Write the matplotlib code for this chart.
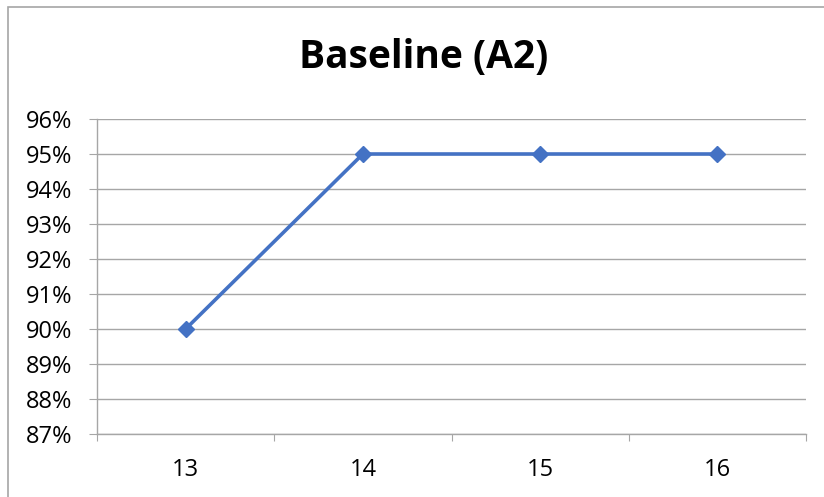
import matplotlib
matplotlib.use("Agg")
import matplotlib.pyplot as plt
from matplotlib.patches import Rectangle
from matplotlib.ticker import FuncFormatter

categories = ["13", "14", "15", "16"]
values = [0.90, 0.95, 0.95, 0.95]
y_ticks = [0.87, 0.88, 0.89, 0.90, 0.91, 0.92, 0.93, 0.94, 0.95, 0.96]
title = "Baseline (A2)"

plt.rcParams["font.family"] = ["Open Sans", "DejaVu Sans"]

W, H = 824, 497
fig = plt.figure(figsize=(W / 100, H / 100), dpi=100)
fig.patch.set_facecolor("white")

# chart-area border (open at right and bottom)
fig.add_artist(Rectangle((8 / W, -0.1), 1.2, 1 - 7 / H + 0.1, transform=fig.transFigure,
                         fill=False, edgecolor="#A6A6A6", linewidth=1.2))

left, right = 97 / W, 806 / W
top, bottom = 1 - 119 / H, 1 - 434 / H
ax = fig.add_axes([left, bottom, right - left, top - bottom])

grid_c = "#A6A6A6"
x = list(range(len(categories)))
ax.plot(x, values, color="#4472C4", linewidth=2.6, marker="D", markersize=8,
        markerfacecolor="#4472C4", markeredgecolor="#4472C4", zorder=3, clip_on=False)

ax.set_xlim(-0.5, len(categories) - 0.5)
ax.set_ylim(y_ticks[0], y_ticks[-1])
ax.set_yticks(y_ticks)
ax.yaxis.set_major_formatter(FuncFormatter(lambda v, _: f"{round(v * 100)}%"))
ax.set_xticks([i - 0.5 for i in range(len(categories) + 1)])
ax.set_xticklabels([])
ax.set_xticks(x, minor=True)
ax.set_xticklabels(categories, minor=True)

ax.grid(axis="y", color=grid_c, linewidth=1.0)
ax.set_axisbelow(True)
for s in ["top", "right"]:
    ax.spines[s].set_visible(False)
for s in ["left", "bottom"]:
    ax.spines[s].set_color(grid_c)
    ax.spines[s].set_linewidth(1.0)

ax.tick_params(axis="y", which="major", length=5.8, color=grid_c, labelsize=17, pad=12,
               labelcolor="black")
ax.tick_params(axis="x", which="major", length=5, color=grid_c, direction="out")
ax.tick_params(axis="x", which="minor", length=0, labelsize=17, pad=17, labelcolor="black")

fig.text(423.5 / W, 1 - 68 / H, title, ha="center", va="baseline",
         fontsize=28, fontweight="bold", color="black")

fig.savefig("out.png", dpi=100, facecolor="white")
